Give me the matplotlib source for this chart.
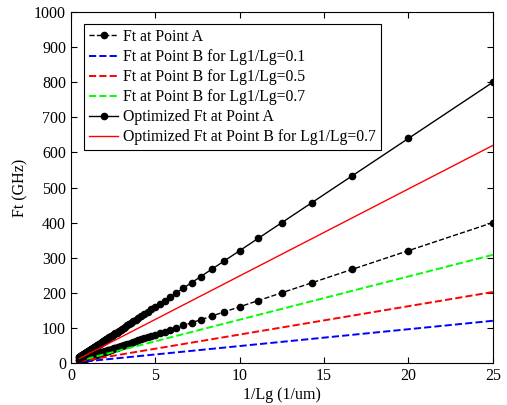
import numpy as np
import matplotlib
matplotlib.use('Agg')
from matplotlib import pyplot as plt

plt.rcParams['font.family'] = ['Liberation Serif', 'DejaVu Serif']
plt.rcParams['font.size'] = 11

# gate lengths (um), 0.04 .. 2.00 in 0.01 steps -> x = 1/Lg
Lg = np.round(np.arange(0.04, 2.0001, 0.01), 2)

# Ft (GHz) at 1/Lg = 25 (Lg = 0.04 um)
# note: each curve is then scaled as 1/Lg (the lines are straight through the origin)
labels = ['Ft at Point A',
          'Ft at Point B for Lg1/Lg=0.1',
          'Ft at Point B for Lg1/Lg=0.5',
          'Ft at Point B for Lg1/Lg=0.7',
          'Optimized Ft at Point A',
          'Optimized Ft at Point B for Lg1/Lg=0.7']
ft_at_25 = [400, 120, 202, 308, 800, 620]
styles = ['k--', 'b--', 'r--', '--', 'k-', 'r-']
colors = ['k', 'b', 'r', '#00ff00', 'k', 'r']
markers = ['o', None, None, None, 'o', None]
widths = [1.0, 1.4, 1.4, 1.4, 1.0, 1.0]

x = 1.0 / Lg

fig = plt.figure(figsize=(5.07, 4.05), dpi=100)
ax = fig.add_axes([0.140, 0.104, 0.832, 0.866])

for lab, f25, ls, c, m, lw in zip(labels, ft_at_25, styles, colors, markers, widths):
    y = f25 * 0.04 / Lg
    ax.plot(x, y, ls, color=c, marker=m, markersize=4.5, lw=lw, label=lab)

ax.set_xlim(0, 25)
ax.set_ylim(0, 1000)
ax.set_xticks([0, 5, 10, 15, 20, 25])
ax.set_yticks(range(0, 1001, 100))
ax.tick_params(direction='in', top=True, right=True, length=4, labelsize=11.5)
ax.set_xlabel('1/Lg (1/um)', fontsize=11.5, labelpad=2)
ax.set_ylabel('Ft (GHz)', fontsize=11.5, labelpad=4)

leg = ax.legend(loc='upper left', bbox_to_anchor=(0.012, 0.988), fontsize=11.3,
                fancybox=False, edgecolor='k', framealpha=1, handlelength=1.9,
                borderpad=0.3, labelspacing=0.26, handletextpad=0.3)
leg.get_frame().set_linewidth(0.8)

fig.savefig('out.png', dpi=100)
